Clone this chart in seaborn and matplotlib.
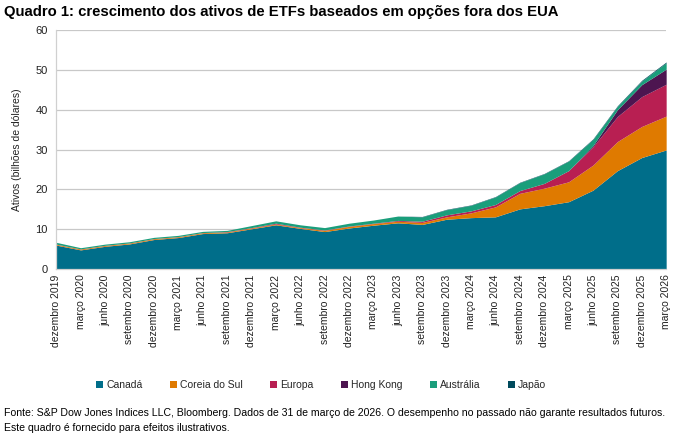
import numpy as np
import pandas as pd
from matplotlib import pyplot as plt
import seaborn as sns

# quarterly dates, dez 2019 .. mar 2026
dates = ["dezembro 2019", "março 2020", "junho 2020", "setembro 2020",
         "dezembro 2020", "março 2021", "junho 2021", "setembro 2021",
         "dezembro 2021", "março 2022", "junho 2022", "setembro 2022",
         "dezembro 2022", "março 2023", "junho 2023", "setembro 2023",
         "dezembro 2023", "março 2024", "junho 2024", "setembro 2024",
         "dezembro 2024", "março 2025", "junho 2025", "setembro 2025",
         "dezembro 2025", "março 2026"]

# assets, USD billions
canada = [6.0, 4.8, 5.7, 6.3, 7.4, 7.9, 8.9, 9.1, 10.1, 11.1, 10.2, 9.4, 10.3,
          11.0, 11.6, 11.2, 12.5, 12.9, 13.1, 15.1, 15.9, 16.9, 19.8, 24.7, 28.0, 29.9]
korea = [0.2, 0.2, 0.2, 0.2, 0.2, 0.2, 0.2, 0.2, 0.2, 0.2, 0.2, 0.3, 0.4,
         0.4, 0.4, 0.5, 0.6, 1.2, 2.5, 3.9, 4.4, 5.0, 6.3, 7.3, 7.8, 8.5]
europe = [0.05, 0.05, 0.05, 0.05, 0.05, 0.05, 0.05, 0.1, 0.1, 0.2, 0.1, 0.1, 0.1,
          0.1, 0.2, 0.3, 0.5, 0.5, 0.6, 0.7, 1.2, 2.8, 4.6, 6.3, 7.5, 8.0]
hong_kong = [0, 0, 0, 0, 0, 0, 0, 0, 0, 0, 0, 0, 0,
             0, 0, 0, 0, 0, 0, 0, 0, 0, 0.3, 1.7, 3.0, 3.8]
australia = [0.45, 0.3, 0.3, 0.3, 0.3, 0.3, 0.3, 0.3, 0.5, 0.6, 0.6, 0.6, 0.7,
             0.8, 1.1, 1.1, 1.3, 1.4, 1.9, 2.0, 2.4, 2.4, 1.55, 0.85, 0.9, 1.6]
japan = [0, 0, 0, 0, 0, 0, 0, 0, 0, 0, 0, 0, 0,
         0, 0, 0.1, 0.1, 0.1, 0.1, 0.1, 0.1, 0.1, 0.15, 0.15, 0.2, 0.2]

series = ["Canadá", "Coreia do Sul", "Europa", "Hong Kong", "Austrália", "Japão"]
colors = ["#006e8a", "#df7a00", "#b81f52", "#4d1550", "#1a9e7b", "#004a5c"]

df = pd.DataFrame({"Canadá": canada, "Coreia do Sul": korea, "Europa": europe,
                   "Hong Kong": hong_kong, "Austrália": australia, "Japão": japan},
                  index=dates)

sns.set_theme(style="whitegrid")
plt.rcParams['font.family'] = ['Liberation Sans', 'DejaVu Sans']

fig, ax = plt.subplots(figsize=(6.77, 4.36), dpi=100)
fig.subplots_adjust(left=0.083, right=0.984, top=0.931, bottom=0.383)

x = np.arange(len(dates))
ax.stackplot(x, *[df[s].values for s in series], labels=series, colors=colors,
             linewidth=0)

ax.set_xlim(0, len(dates) - 1)
ax.set_ylim(0, 60)
ax.set_yticks(range(0, 61, 10))
ax.set_xticks(x)
ax.set_xticklabels(dates, rotation=90, fontsize=7.5, color="#222222")
ax.tick_params(axis="y", labelsize=8, colors="#222222", length=0, pad=6)
ax.tick_params(axis="x", length=0, pad=4)
ax.set_ylabel("Ativos (bilhões de dólares)", fontsize=7.5, color="#222222", labelpad=10)

ax.grid(axis="x", visible=False)
ax.grid(axis="y", color="#c8c8c8", linewidth=0.9)
ax.set_axisbelow(True)
for side in ["top", "right"]:
    ax.spines[side].set_visible(False)
for side in ["left", "bottom"]:
    ax.spines[side].set_color("#d0d0d0")
    ax.spines[side].set_linewidth(0.9)

handles, labels = ax.get_legend_handles_labels()
fig.legend(handles, labels, loc="center", bbox_to_anchor=(0.474, 1 - 385 / 436),
           ncol=6, frameon=False, fontsize=7.5, handlelength=0.7, handleheight=0.7,
           handletextpad=0.3, columnspacing=2.6)

fig.text(0.006, 1 - 12 / 436, "Quadro 1: crescimento dos ativos de ETFs baseados em opções fora dos EUA",
         fontsize=10.7, fontweight="bold", va="center", ha="left", color="#000000")
fig.text(0.006, 1 - 413 / 436,
         "Fonte: S&P Dow Jones Indices LLC, Bloomberg. Dados de 31 de março de 2026. "
         "O desempenho no passado não garante resultados futuros.",
         fontsize=7.55, va="center", ha="left", color="#000000")
fig.text(0.006, 1 - 428 / 436, "Este quadro é fornecido para efeitos ilustrativos.",
         fontsize=7.55, va="center", ha="left", color="#000000")

fig.savefig("out.png", dpi=100)
